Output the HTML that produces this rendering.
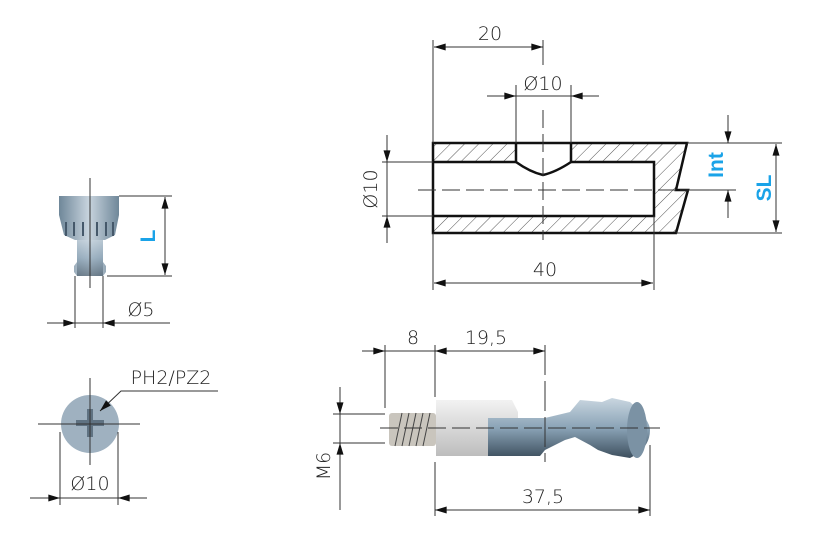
<!DOCTYPE html>
<html><head><style>
html,body{margin:0;padding:0;background:#fff;}
svg{display:block;}
text{font-family:"DejaVu Sans","Liberation Sans",sans-serif;font-weight:200;fill:#222;}
.b{font-family:"Liberation Sans",sans-serif;font-weight:bold;fill:#1aa3e8;}
</style></head><body>
<svg width="820" height="560" viewBox="0 0 820 560" xmlns="http://www.w3.org/2000/svg">
<defs>
<marker id="a" viewBox="0 0 10 6" refX="10" refY="3" markerWidth="13" markerHeight="7" orient="auto-start-reverse" markerUnits="userSpaceOnUse"><path d="M0,0L10,3L0,6z" fill="#111"/></marker>
<pattern id="h" width="10" height="10" patternUnits="userSpaceOnUse" patternTransform="rotate(45)"><line x1="0" y1="0" x2="0" y2="10" stroke="#555" stroke-width="1"/></pattern>
<linearGradient id="g1" x1="0" x2="0" y1="0" y2="1"><stop offset="0" stop-color="#c9d6e0"/><stop offset="0.5" stop-color="#8aa3b6"/><stop offset="1" stop-color="#3d4f5e"/></linearGradient>
<linearGradient id="g2" x1="0" x2="0" y1="0" y2="1"><stop offset="0" stop-color="#f2f2f2"/><stop offset="1" stop-color="#bdbdbd"/></linearGradient>
<linearGradient id="g3" x1="0" x2="1" y1="0" y2="0"><stop offset="0" stop-color="#6f8799"/><stop offset="0.5" stop-color="#c8d4de"/><stop offset="1" stop-color="#6f8799"/></linearGradient>
</defs>
<g stroke="#333" stroke-width="1" fill="none">
<path d="M433,143 H687 L676,190 H688 L676,233 H433 Z" fill="url(#h)" stroke="none"/>
<rect x="433" y="162" width="221" height="54" fill="#fff" stroke="none"/>
<path d="M516,143 H571 V162 Q545,176 543,176 Q541,176 516,162 Z" fill="#fff" stroke="none"/>
<path d="M433,143 H687 L676,190 H688 L676,233 H433 Z" stroke="#111" stroke-width="2.5"/>
<path d="M433,162 H516 M571,162 H654 V216 H433" stroke="#111" stroke-width="2.5"/>
<path d="M516,143 V162 Q530,172 543,175 Q556,172 571,162 V143" stroke="#111" stroke-width="2.5"/>
<line x1="418" y1="190" x2="735" y2="190" stroke-dasharray="18,6"/>
<line x1="543" y1="110" x2="543" y2="240" stroke-dasharray="18,6"/>
<line x1="433" y1="40" x2="433" y2="143"/><line x1="543" y1="40" x2="543" y2="65"/>
<line x1="434" y1="47" x2="543" y2="47" marker-start="url(#a)" marker-end="url(#a)"/>
<line x1="516" y1="85" x2="516" y2="143"/><line x1="571" y1="85" x2="571" y2="143"/>
<line x1="487" y1="96" x2="516" y2="96" marker-end="url(#a)"/><line x1="599" y1="96" x2="571" y2="96" marker-end="url(#a)"/><line x1="516" y1="96" x2="571" y2="96"/>
<line x1="382" y1="162" x2="433" y2="162"/><line x1="382" y1="216" x2="433" y2="216"/>
<line x1="387" y1="135" x2="387" y2="162" marker-end="url(#a)"/><line x1="387" y1="243" x2="387" y2="216" marker-end="url(#a)"/><line x1="387" y1="162" x2="387" y2="216"/>
<line x1="433" y1="233" x2="433" y2="290"/><line x1="654" y1="216" x2="654" y2="290"/>
<line x1="434" y1="283" x2="653" y2="283" marker-start="url(#a)" marker-end="url(#a)"/>
<line x1="687" y1="143" x2="782" y2="143"/><line x1="676" y1="233" x2="782" y2="233"/><line x1="680" y1="190" x2="736" y2="190"/>
<line x1="728" y1="115" x2="728" y2="143" marker-end="url(#a)"/><line x1="728" y1="218" x2="728" y2="190" marker-end="url(#a)"/>
<line x1="776" y1="144" x2="776" y2="232" marker-start="url(#a)" marker-end="url(#a)"/>
<path d="M59,196 H119 V215 L115,235 L105,240 H103 V262 L106,266 V272 L103,276 H77 L74,272 V266 L77,262 V240 H75 L64,235 L59,215 Z" fill="url(#g3)" stroke="none"/>
<rect x="77" y="240" width="26" height="36" fill="url(#g1)" stroke="none" opacity="0.6"/>
<path d="M66,222 V236 M74,222 V236 M83,222 V236 M97,222 V236 M106,222 V236 M113,222 V236" stroke="#45586a" stroke-width="2"/>
<line x1="90" y1="178" x2="90" y2="288"/>
<line x1="119" y1="196" x2="172" y2="196"/><line x1="107" y1="276" x2="172" y2="276"/>
<line x1="165" y1="197" x2="165" y2="275" marker-start="url(#a)" marker-end="url(#a)"/>
<line x1="75" y1="276" x2="75" y2="328"/><line x1="103" y1="276" x2="103" y2="328"/>
<line x1="47" y1="323" x2="75" y2="323" marker-end="url(#a)"/><line x1="170" y1="323" x2="103" y2="323" marker-end="url(#a)"/><line x1="75" y1="323" x2="103" y2="323"/>
<circle cx="90" cy="424" r="29" fill="#9fb1c0" stroke="none"/>
<path d="M87,409 h6 v11 h11 v6 h-11 v11 h-6 v-11 h-11 v-6 h11z" fill="#5f7282" stroke="none"/>
<line x1="38" y1="424" x2="140" y2="424"/><line x1="90" y1="378" x2="90" y2="465"/>
<line x1="60" y1="432" x2="60" y2="505"/><line x1="118" y1="432" x2="118" y2="505"/>
<line x1="30" y1="498" x2="60" y2="498" marker-end="url(#a)"/><line x1="147" y1="498" x2="118" y2="498" marker-end="url(#a)"/><line x1="60" y1="498" x2="118" y2="498"/>
<path d="M218,391 H121 L100,411" marker-end="url(#a)"/>
<rect x="436" y="400" width="52" height="56" fill="url(#g2)" stroke="none"/>
<path d="M436,400 H512 L518,412 V418 H488 V456 H436Z" fill="url(#g2)" stroke="none"/>
<path d="M488,418 H545 L570,412 L580,400 L602,402 L612,398 L630,402 Q650,420 650,430 Q650,448 630,458 L612,455 L598,450 L590,445 L575,437 L565,440 L545,450 L540,456 H488Z" fill="url(#g1)" stroke="none"/>
<ellipse cx="637" cy="430" rx="10" ry="28" fill="#7b92a4" stroke="none"/>
<rect x="389" y="413" width="47" height="33" rx="3" fill="#c9c5bd" stroke="none"/>
<path d="M395,446 L402,413 M402,446 L409,413 M409,446 L416,413 M416,446 L423,413 M423,446 L430,413" stroke="#444"/>
<line x1="380" y1="428" x2="660" y2="428" stroke-dasharray="18,6"/>
<line x1="385" y1="345" x2="385" y2="408"/><line x1="435" y1="345" x2="435" y2="397"/><line x1="435" y1="462" x2="435" y2="516"/>
<line x1="545" y1="345" x2="545" y2="462" stroke-dasharray="30,6"/><line x1="650" y1="445" x2="650" y2="516"/>
<line x1="362" y1="351" x2="385" y2="351" marker-end="url(#a)"/><line x1="385" y1="351" x2="435" y2="351"/>
<line x1="435" y1="351" x2="545" y2="351" marker-start="url(#a)" marker-end="url(#a)"/>
<line x1="435" y1="510" x2="650" y2="510" marker-start="url(#a)" marker-end="url(#a)"/>
<line x1="333" y1="414" x2="385" y2="414"/><line x1="333" y1="443" x2="385" y2="443"/>
<line x1="340" y1="387" x2="340" y2="414" marker-end="url(#a)"/><line x1="340" y1="510" x2="340" y2="443" marker-end="url(#a)"/><line x1="340" y1="414" x2="340" y2="443"/>
</g>
<g font-size="19">
<text x="490" y="40" text-anchor="middle">20</text>
<text x="543" y="90" text-anchor="middle">Ø10</text>
<text x="545" y="276" text-anchor="middle">40</text>
<text transform="translate(377,189) rotate(-90)" text-anchor="middle">Ø10</text>
<text x="141" y="316" text-anchor="middle">Ø5</text>
<text x="171" y="384" text-anchor="middle">PH2/PZ2</text>
<text x="90" y="490" text-anchor="middle">Ø10</text>
<text x="413" y="344" text-anchor="middle">8</text>
<text x="486" y="344" text-anchor="middle">19,5</text>
<text x="543" y="503" text-anchor="middle">37,5</text>
<text transform="translate(330,466) rotate(-90)" text-anchor="middle">M6</text>
<text class="b" font-size="21" transform="translate(723,165) rotate(-90)" text-anchor="middle">Int</text>
<text class="b" font-size="21" transform="translate(771,188) rotate(-90)" text-anchor="middle">SL</text>
<text class="b" font-size="21" transform="translate(155,236) rotate(-90)" text-anchor="middle">L</text>
</g>
</svg>
</body></html>
